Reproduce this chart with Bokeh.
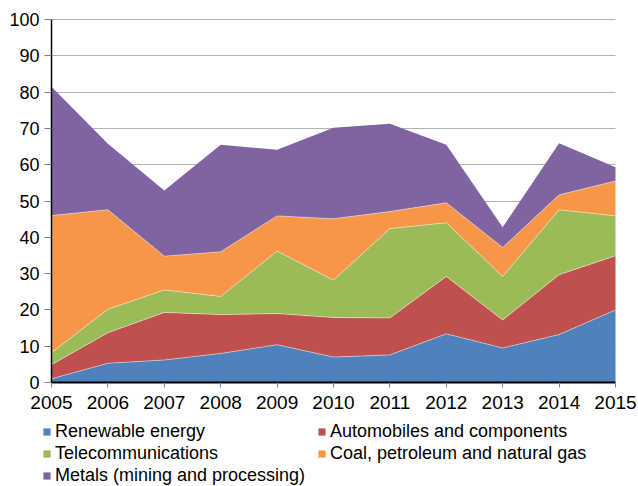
from bokeh.plotting import figure
from bokeh.models import (ColumnDataSource, Range1d, FixedTicker,
                          Legend, LegendItem, LinearAxis, Grid)
from bokeh.embed import file_html
from bokeh.resources import INLINE

years = [2005, 2006, 2007, 2008, 2009, 2010, 2011, 2012, 2013, 2014, 2015]
renewable = [1.0, 5.3, 6.2, 8.0, 10.4, 7.0, 7.6, 13.4, 9.5, 13.2, 20.0]
automobiles = [3.9, 8.4, 13.1, 10.7, 8.6, 10.9, 10.2, 15.8, 7.7, 16.5, 14.9]
telecom = [3.3, 6.5, 6.2, 5.0, 17.2, 10.3, 24.6, 14.8, 12.0, 17.9, 11.0]
coal = [37.8, 27.4, 9.3, 12.3, 9.7, 16.9, 4.7, 5.5, 8.0, 4.1, 9.6]
metals = [35.5, 18.2, 18.1, 29.5, 18.2, 25.1, 24.2, 16.0, 5.6, 14.2, 3.8]

y_ticks = [0, 10, 20, 30, 40, 50, 60, 70, 80, 90, 100]

keys = ["renewable", "automobiles", "telecom", "coal", "metals"]
labels = ["Renewable energy", "Automobiles and components", "Telecommunications",
          "Coal, petroleum and natural gas", "Metals (mining and processing)"]
colors = ["#4F81BD", "#C0504D", "#9BBB59", "#F79646", "#8064A2"]

source = ColumnDataSource(dict(year=years, renewable=renewable, automobiles=automobiles,
                               telecom=telecom, coal=coal, metals=metals))

FONT = "Liberation Sans"

# canvas geometry (pixels)
W, H = 638, 486
LEFT, RIGHT, TOP, BOTTOM = 51, 615, 19, 382
x0, x1 = years[0], years[-1]
y0, y1 = y_ticks[0], y_ticks[-1]
sx = (RIGHT - LEFT) / (x1 - x0)
sy = (BOTTOM - TOP) / (y1 - y0)

p = figure(width=W, height=H, output_backend="svg", toolbar_location=None,
           x_range=Range1d(x0 - LEFT / sx, x1 + (W - RIGHT) / sx),
           y_range=Range1d(y0 - (H - BOTTOM) / sy, y1 + TOP / sy),
           x_axis_location=None, y_axis_location=None,
           min_border=0)
p.outline_line_color = None
p.background_fill_color = "white"
p.border_fill_color = "white"
p.xgrid.visible = False
p.ygrid.visible = False

# horizontal gridlines
ygrid = Grid(dimension=1, ticker=FixedTicker(ticks=y_ticks),
             grid_line_color="#B3B3B3", grid_line_width=1)
if "cross_bounds" in Grid.properties():
    ygrid.cross_bounds = (x0, x1)
    p.add_layout(ygrid)
else:
    p.segment(x0=[x0] * len(y_ticks), x1=[x1] * len(y_ticks), y0=y_ticks, y1=y_ticks,
              line_color="#B3B3B3", line_width=1)

renderers = p.varea_stack(stackers=keys, x="year", color=colors, source=source)
# faint light separators between the stacked layers
p.vline_stack(stackers=keys[:-1], x="year", source=source,
              line_color="white", line_alpha=0.55, line_width=0.8)

# axes drawn at fixed positions
xaxis = LinearAxis(fixed_location=y0, bounds=(x0, x1), ticker=FixedTicker(ticks=years))
yaxis = LinearAxis(fixed_location=x0, bounds=(y0, y1), ticker=FixedTicker(ticks=y_ticks))
for ax in (xaxis, yaxis):
    ax.major_label_text_font = FONT
    ax.major_label_text_color = "black"
    ax.minor_tick_line_color = None
    ax.axis_line_color = "black"
    ax.major_tick_line_color = "#808080"
    ax.major_tick_in = 0
xaxis.major_label_text_font_size = "19px"
yaxis.major_label_text_font_size = "18px"
xaxis.axis_line_width = 2
yaxis.axis_line_width = 1.5
xaxis.major_tick_out = 5
xaxis.major_label_standoff = 8
yaxis.major_tick_out = 7
yaxis.major_label_standoff = 5
p.add_layout(xaxis, "below")
p.add_layout(yaxis, "left")

items = [LegendItem(label=lab, renderers=[r]) for lab, r in zip(labels, renderers)]
legend = Legend(items=items, location=(42, 0), orientation="horizontal", ncols=2,
                glyph_width=9, glyph_height=9, label_standoff=4, label_width=262,
                label_height=22, spacing=0, padding=0, margin=0,
                label_text_font=FONT, label_text_font_size="18px", label_text_color="black",
                border_line_alpha=0, background_fill_alpha=0)
p.add_layout(legend, "center")

open("out.html", "w").write(file_html(p, INLINE))
